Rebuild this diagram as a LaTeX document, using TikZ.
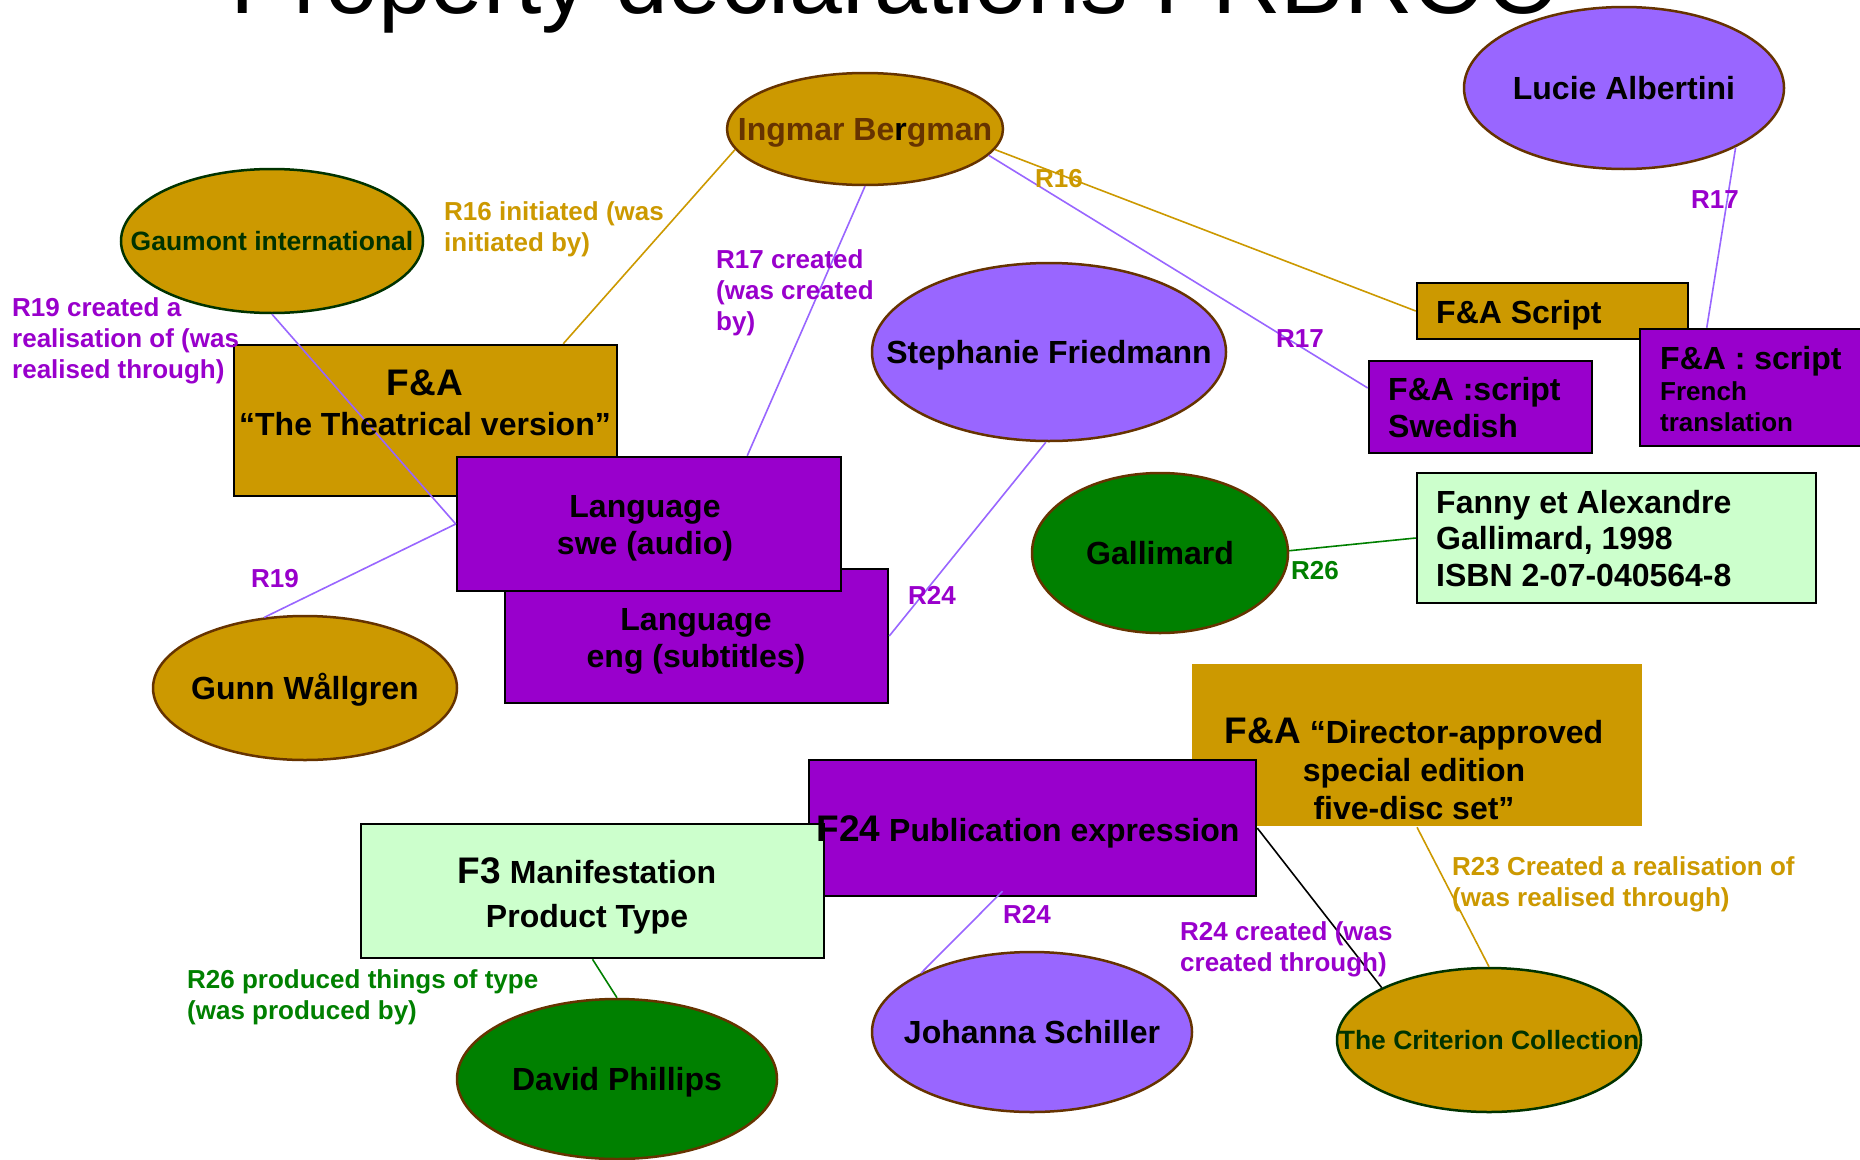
\documentclass[tikz,border=0pt]{standalone}
\usepackage{fontspec}
\setmainfont{Liberation Sans}
\usetikzlibrary{shapes.geometric}
\definecolor{gold}{HTML}{CC9900}
\definecolor{vio}{HTML}{9900CC}
\definecolor{lav}{HTML}{9966FF}
\definecolor{grn}{HTML}{008000}
\definecolor{mint}{HTML}{CCFFCC}
\definecolor{brn}{HTML}{663300}
\definecolor{dkg}{HTML}{003300}
\tikzset{
  ell/.style={ellipse, inner sep=0pt, line width=2.5pt, draw=brn,
    label={[inner sep=0pt, text height=23pt, text depth=0pt, font=\fontsize{32}{38}\selectfont\bfseries]center:#1}},
  ellsm/.style={ellipse, inner sep=0pt, line width=2.5pt, draw=dkg,
    label={[inner sep=0pt, text height=19pt, text depth=0pt, text=dkg, font=\fontsize{26.5}{30}\selectfont\bfseries]center:#1}},
  box/.style={rectangle, inner sep=0pt, line width=2.5pt, draw=black},
  txt/.style={inner sep=0pt, font=\fontsize{32}{37}\selectfont\bfseries},
  lbl/.style={inner sep=0pt, font=\fontsize{26}{31}\selectfont\bfseries, align=left},
  conn/.style={line width=1.6pt},
}
\begin{document}
\begin{tikzpicture}[x=1pt, y=-1pt]
\useasboundingbox (0,0) rectangle (1860,1159);
\clip (0,0) rectangle (1860,1159);
\fill[white] (0,0) rectangle (1860,1159);

% title
\node[inner sep=0pt, anchor=base west, font=\fontsize{95}{100}\selectfont] (title) at (230,13) {Property declarations FRBROO};

% boxes
\node[box, fill=gold, minimum width=383pt, minimum height=151pt] (fa) at (425.5,420.5) {};
\node[box, fill=vio, minimum width=383pt, minimum height=134pt] (le) at (696.5,636) {};
\node[box, fill=vio, minimum width=384pt, minimum height=134pt] (ls) at (649,524) {};
\node[box, fill=gold, minimum width=271pt, minimum height=56pt] (fs) at (1552.5,311) {};
\node[box, fill=vio, minimum width=223pt, minimum height=92pt] (sw) at (1480.5,407) {};
\node[box, fill=vio, minimum width=260pt, minimum height=117pt] (fr) at (1770,387.5) {};
\node[box, fill=mint, minimum width=399pt, minimum height=130pt] (fy) at (1616.5,538) {};
\node[box, fill=gold, draw=none, minimum width=450pt, minimum height=162pt] (fd) at (1417,745) {};
\node[box, fill=vio, minimum width=447pt, minimum height=136pt] (f24) at (1032.5,828) {};
\node[box, fill=mint, minimum width=463pt, minimum height=134pt] (f3) at (592.5,891) {};

% ellipses
\node[ell={\color{brn}Ingmar Be{\color{black}r}gman}, fill=gold, minimum width=276pt, minimum height=112pt] (ib) at (865,129) {};
\node[ellsm={Gaumont international}, fill=gold, minimum width=302pt, minimum height=144pt] (ga) at (272,241) {};
\node[ell={Lucie Albertini}, fill=lav, minimum width=320pt, minimum height=162pt] (la) at (1624,88) {};
\node[ell={Stephanie Friedmann}, fill=lav, minimum width=354pt, minimum height=178pt] (sf) at (1049,352) {};
\node[ell={Gallimard}, fill=grn, minimum width=256pt, minimum height=160pt] (gm) at (1160,553) {};
\node[ell={Gunn Wållgren}, fill=gold, minimum width=304pt, minimum height=144pt] (gw) at (305,688) {};
\node[ell={David Phillips}, fill=grn, minimum width=320pt, minimum height=160pt] (dp) at (617,1079) {};
\node[ell={Johanna Schiller}, fill=lav, minimum width=320pt, minimum height=160pt] (js) at (1032,1032) {};
\node[ellsm={The Criterion Collection}, fill=gold, minimum width=304pt, minimum height=144pt] (cc) at (1489,1040) {};

% connectors
\draw[conn, gold] (ib.189) -- ([xshift=-55pt]fa.north east);
\draw[conn, lav] (ib.270) -- ([xshift=-95pt]ls.north east);
\draw[conn, lav] (ib.348) -- ([yshift=19pt]sw.west);
\draw[conn, gold] (ib.351) -- (fs.west);
\draw[conn, lav] (la.332) -- ([xshift=68pt]fr.north west);
\draw[conn, lav] (ga.270) -- (ls.west);
\draw[conn, lav] (gw.120) -- (ls.west);
\draw[conn, lav] (sf.268) -- (le.east);
\draw[conn, grn] (gm.1) -- (fy.west);
\draw[conn, grn] (f3.south) -- (dp.90);
\draw[conn, lav] ([xshift=-30pt,yshift=6pt]f24.south) -- (js.152);
\draw[conn, black] (f24.east) -- (cc.154);
\draw[conn, gold] (fd.south) -- (cc.90);

% box texts
\node[txt, align=center, font=\fontsize{32}{40}\selectfont\bfseries] (tfa) at (425,403) {{\fontsize{37}{40}\selectfont F\&A}\\“The Theatrical version”};
\node[txt, align=center] (tls) at (645,528) {Language\\swe (audio)};
\node[txt, align=center] (tle) at (696,641) {Language\\eng (subtitles)};
\node[txt, anchor=west] (tfs) at (1436,315) {F\&A Script};
\node[txt, align=left, anchor=west] (tsw) at (1388,407.5) {F\&A :script\\Swedish};
\node[txt, align=left, anchor=west, font=\fontsize{26}{31}\selectfont\bfseries] (tfr) at (1660,389) {{\fontsize{32}{31}\selectfont F\&A : script}\\French\\translation};
\node[txt, align=left, anchor=west, font=\fontsize{32}{36.5}\selectfont\bfseries] (tfy) at (1436,538.5) {Fanny et Alexandre\\Gallimard, 1998\\ISBN 2-07-040564-8};
\node[txt, align=center, font=\fontsize{32}{38}\selectfont\bfseries] (tfd) at (1414,769) {{\fontsize{37}{38}\selectfont F\&A} “Director-approved\\special edition\\five-disc set”};
\node[txt] (tf24) at (1028,832) {{\fontsize{37}{38}\selectfont F24} Publication expression};
\node[txt, align=center, font=\fontsize{32}{44}\selectfont\bfseries] (tf3) at (587,896) {{\fontsize{37}{44}\selectfont F3} Manifestation\\Product Type};

% property labels
\node[lbl, text=gold, anchor=west] (l1) at (444,229) {R16 initiated (was\\initiated by)};
\node[lbl, text=vio, anchor=west] (l2) at (716,292.5) {R17 created\\(was created\\by)};
\node[lbl, text=vio, anchor=west] (l3) at (12,341) {R19 created a\\realisation of (was\\realised through)};
\node[lbl, text=gold] (l4) at (1059,179) {R16};
\node[lbl, text=vio] (l5) at (1300,339) {R17};
\node[lbl, text=vio] (l6) at (1715,200) {R17};
\node[lbl, text=vio] (l7) at (275,579) {R19};
\node[lbl, text=vio] (l8) at (932,595) {R24};
\node[lbl, text=grn] (l9) at (1315,571) {R26};
\node[lbl, text=vio] (l10) at (1027,914) {R24};
\node[lbl, text=vio, anchor=west] (l11) at (1180,949.5) {R24 created (was\\created through)};
\node[lbl, text=gold, anchor=west] (l12) at (1452,884.5) {R23 Created a realisation of\\(was realised through)};
\node[lbl, text=grn, anchor=west] (l13) at (187,997) {R26 produced things of type\\(was produced by)};
\end{tikzpicture}
\end{document}
